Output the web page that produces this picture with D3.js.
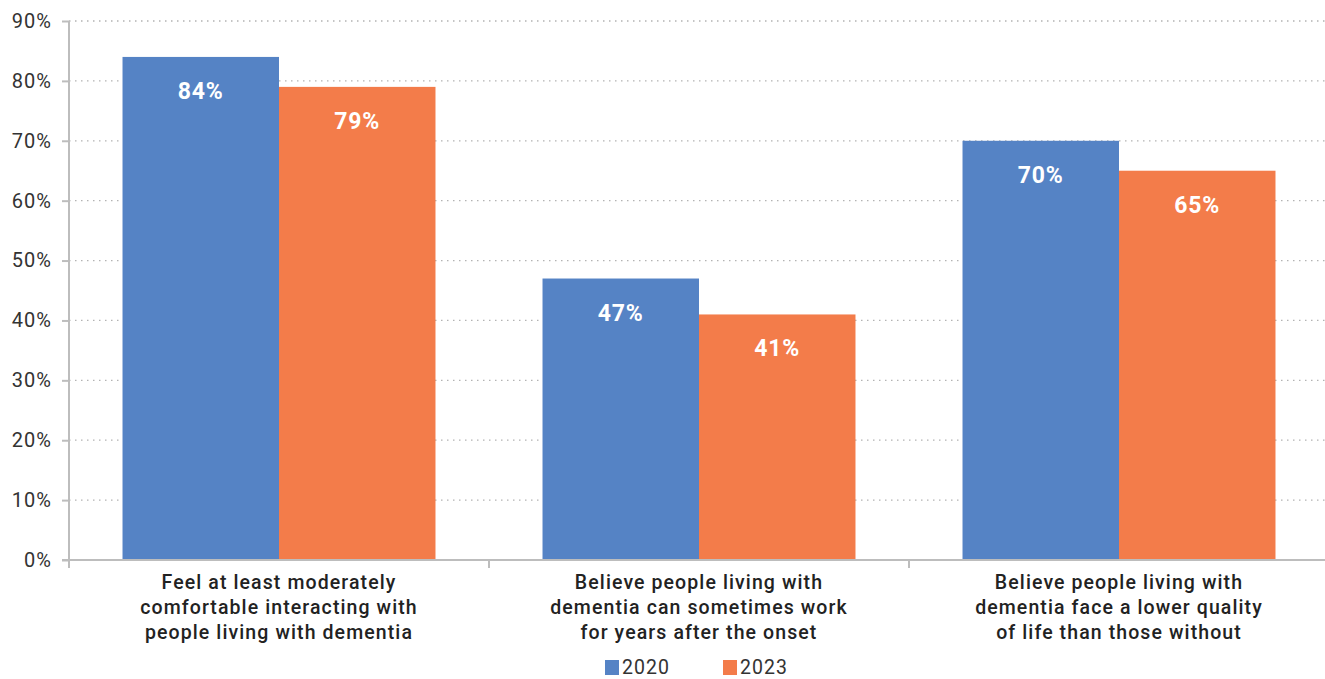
<!DOCTYPE html>
<html>
<head>
<meta charset="utf-8">
<script src="https://cdn.jsdelivr.net/npm/d3@7"></script>
<style>
  html, body { margin: 0; padding: 0; background: #fff; }
  svg { display: block; font-family: Roboto, "DejaVu Sans", sans-serif; }
</style>
</head>
<body>
<svg id="chart" width="1325" height="679"></svg>
<script>
// Survey answers, share of respondents (%)
const categories = [
  ["Feel at least moderately", "comfortable interacting with", "people living with dementia"],
  ["Believe people living with", "dementia can sometimes work", "for years after the onset"],
  ["Believe people living with", "dementia face a lower quality", "of life than those without"]
];
const seriesNames = ["2020", "2023"];
const values2020 = [84, 47, 70];
const values2023 = [79, 41, 65];
const yTicks = [0, 10, 20, 30, 40, 50, 60, 70, 80, 90];
const colors = ["#5583c5", "#f37c4a"];

const svg = d3.select("#chart");
const margin = { left: 69, right: -4, top: 21, bottom: 119 };
const W = 1325, H = 679;
const x0 = margin.left, x1 = W - margin.right;
const yTop = margin.top, yBot = H - margin.bottom;

const catIdx = d3.range(categories.length);
const x = d3.scaleBand().domain(catIdx).range([x0, x1]).paddingInner(0).paddingOuter(0);
const xs = d3.scaleBand().domain(seriesNames).range([0, x.bandwidth()]).paddingOuter(0.342).paddingInner(0);
const y = d3.scaleLinear().domain([0, 90]).range([yBot, yTop]);

// dotted gridlines
svg.append("g")
  .selectAll("line")
  .data(yTicks.filter(d => d > 0))
  .join("line")
  .attr("x1", x0).attr("x2", W)
  .attr("y1", d => y(d)).attr("y2", d => y(d))
  .attr("stroke", "#b3b3b3")
  .attr("stroke-width", 1.3)
  .attr("stroke-dasharray", "1.5,4.5");

// bars
const rows = catIdx.map(i => ({ i, vals: [values2020[i], values2023[i]] }));
const groups = svg.append("g").selectAll("g")
  .data(rows).join("g")
  .attr("transform", d => `translate(${x(d.i)},0)`);

groups.selectAll("rect")
  .data(d => d.vals.map((v, k) => ({ v, k })))
  .join("rect")
  .attr("x", d => xs(seriesNames[d.k]))
  .attr("width", xs.bandwidth())
  .attr("y", d => y(d.v))
  .attr("height", d => y(0) - y(d.v))
  .attr("fill", d => colors[d.k]);

groups.selectAll("text.val")
  .data(d => d.vals.map((v, k) => ({ v, k })))
  .join("text")
  .attr("class", "val")
  .attr("x", d => xs(seriesNames[d.k]) + xs.bandwidth() / 2)
  .attr("y", d => y(d.v) + 42)
  .attr("text-anchor", "middle")
  .attr("fill", "#fff")
  .attr("font-size", 23)
  .attr("font-weight", 700)
  .attr("letter-spacing", 0.8)
  .text(d => d.v + "%");

// y axis
const yAxis = d3.axisLeft(y).tickValues(yTicks).tickFormat(d => d + "%").tickSize(7).tickPadding(10);
const gy = svg.append("g").attr("transform", `translate(${x0},0)`).call(yAxis);
gy.select(".domain").attr("stroke", "#bdbdbd").attr("stroke-width", 2).attr("d", `M0,${yTop}V${yBot + 8}`);
gy.selectAll(".tick line").attr("stroke", "#bdbdbd").attr("stroke-width", 2);
gy.selectAll(".tick text").attr("fill", "#333").attr("font-size", 20).attr("letter-spacing", 1)
  .attr("font-family", "Roboto, sans-serif");

// x axis with ticks at category boundaries
const gx = svg.append("g").attr("transform", `translate(0,${yBot})`);
gx.append("line").attr("x1", x0 - 7).attr("x2", W).attr("y1", 0).attr("y2", 0)
  .attr("stroke", "#bdbdbd").attr("stroke-width", 2);
gx.selectAll("line.tk")
  .data(catIdx.concat([categories.length]))
  .join("line").attr("class", "tk")
  .attr("x1", d => x0 + d * x.step()).attr("x2", d => x0 + d * x.step())
  .attr("y1", 0).attr("y2", 8)
  .attr("stroke", "#bdbdbd").attr("stroke-width", 2);

// category labels
const lbl = svg.append("g").selectAll("text")
  .data(catIdx).join("text")
  .attr("x", d => x(d) + x.bandwidth() / 2)
  .attr("y", yBot + 29)
  .attr("text-anchor", "middle")
  .attr("fill", "#222")
  .attr("font-size", 19.5)
  .attr("font-weight", 500)
  .attr("letter-spacing", 1.1);
lbl.selectAll("tspan")
  .data(d => categories[d])
  .join("tspan")
  .attr("x", function () { return d3.select(this.parentNode).attr("x"); })
  .attr("dy", (d, j) => j === 0 ? 0 : 25)
  .text(d => d);

// legend
const legend = svg.append("g").attr("transform", `translate(605,660)`);
const li = legend.selectAll("g").data(seriesNames).join("g")
  .attr("transform", (d, k) => `translate(${k * 118},0)`);
li.append("rect").attr("width", 14).attr("height", 15).attr("fill", (d, k) => colors[k]);
li.append("text").attr("x", 17).attr("y", 14)
  .attr("fill", "#333").attr("font-size", 19.5).attr("letter-spacing", 1)
  .text(d => d);
</script>
</body>
</html>
